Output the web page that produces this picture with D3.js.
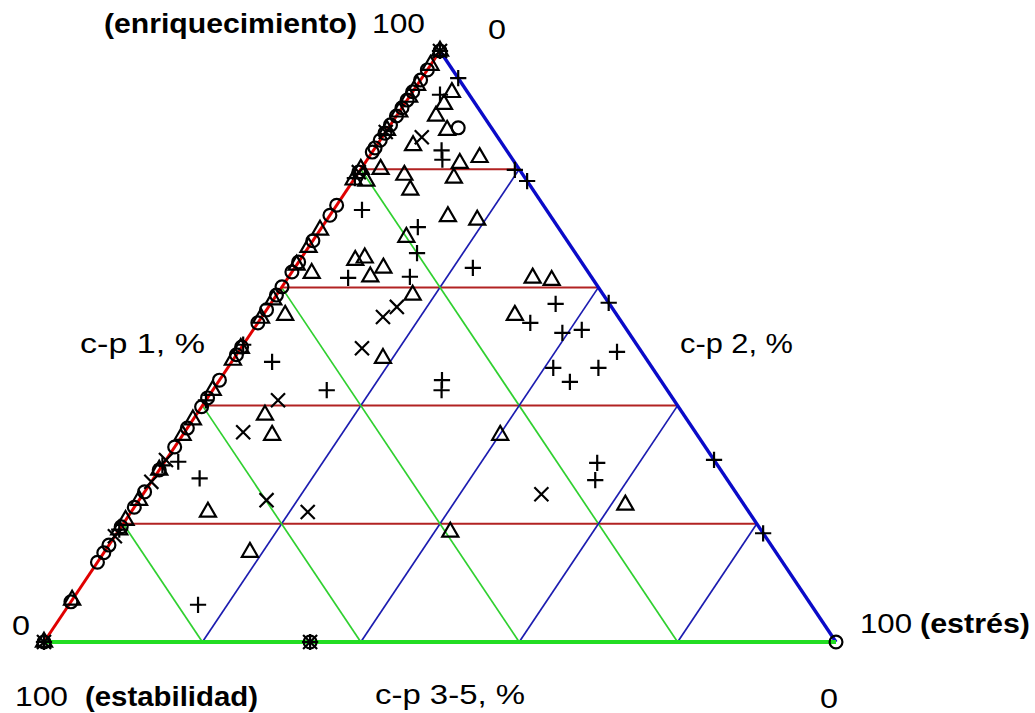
<!DOCTYPE html>
<html><head><meta charset="utf-8">
<script src="https://cdn.jsdelivr.net/npm/d3@7"></script>
<style>
body{margin:0;background:#fff;}
svg{display:block;}
text{font-family:"Liberation Sans",Arial,Helvetica,sans-serif;fill:#000;}
</style>
</head><body>
<svg id="c" width="1035" height="713"></svg>
<script>
// Ternary data: [c-p 1 %, c-p 2 %, c-p 3-5 %]
const gridLevels = [20, 40, 60, 80];
const axisTicks = ["0", "100"];

const circlePts = [
  [100,0,0],[96.8,0,3.2],[95.1,0,4.9],[93.1,0,6.9],[91.7,0,8.3],[90.4,0,9.6],[89,0,11],[87.5,0,12.5],
  [86.1,0,13.9],[84.9,0,15.1],[83.6,0,16.4],[82.9,0,17.1],[79.5,0,20.5],[73.9,0,26.1],[72.2,0,27.8],
  [67.9,0,32.1],[64.3,0,35.7],[62.6,0,37.4],[60.1,0,39.9],[58.7,0,41.3],[56.2,0,43.8],[54,0,46],
  [49.9,0,50.1],[48.6,0,51.4],[44.3,0,55.7],[41.3,0,58.7],[39.8,0,60.2],[36.2,0,63.8],[33,0,67],
  [29.1,0,70.9],[25.4,0,74.6],[22.8,0,77.2],[19.5,0,80.5],[16.4,0,83.6],[15.1,0,84.9],[13.5,0,86.5],
  [6.8,0,93.2],[0,0,100],
  [87,8.8,4.2],[0,33.6,66.4],[0,100,0]
];
const trianglePts = [
  [100,0,0],[97.6,0,2.4],[94.2,0,5.8],[92.2,0,7.8],[89.7,0,10.3],[86.6,0,13.4],[80,0,20],[78.2,0,21.8],
  [69.7,0,30.3],[66.8,0,33.2],[63.8,0,36.2],[57.9,0,42.1],[54.8,0,45.2],[49.7,0,50.3],[47.7,0,52.3],
  [42.6,0,57.4],[37.6,0,62.4],[35,0,65],[29.1,0,70.9],[24,0,76],[20.6,0,79.4],[19,0,81],[7.1,0,92.9],[0,0,100],
  [93,5,2],[91,5,4],[89,5,6],[86.6,7.6,5.8],[84,4.6,11.4],[81,12,7],[82,14,4],[78.5,12.5,9],
  [79,6,15],[80,2.5,17.5],[76.5,8,15.5],[78,1.7,20.3],[72,15,13],[71.4,19,9.6],[68.5,11.5,20],
  [64.6,7,28.4],[65,8,27],[63.3,11.2,25.5],[61.8,10.3,27.9],[58.7,17.2,24.1],[62.4,2.6,35],
  [61.6,30.9,7.5],[61.2,33.5,5.3],[55.3,31.8,12.9],[55.3,2.8,41.9],[48,18.8,33.2],[38.4,8.7,52.9],
  [35,11.3,53.7],[22,9.7,68.3],[15.2,18.4,66.4],[35,40.1,24.9],[18.6,42,39.4],[23.2,61.8,15]
];
const plusPts = [
  [100,0,0],[78.5,0,21.5],[50.3,0,49.7],[40.9,0,59.1],[29.9,0,70.1],[19,0,81],[0,0,100],[0,33.6,66.4],
  [92.6,3.7,3.7],[83.2,8.6,8.2],[81.6,9.5,8.9],[73.1,3.6,23.3],[70.2,12.1,17.7],[65.8,14.2,20],
  [61.6,7.6,30.8],[61.8,15.3,22.9],[63.3,22.5,14.2],[57.2,36,6.8],[54,34.4,11.6],[52.3,39.3,8.4],
  [52.8,41.5,5.7],[49.1,47.8,3.1],[46.4,46.8,6.8],[46.4,41.1,12.5],[44,44.4,11.6],[44.3,28.1,27.6],
  [42.6,28.9,28.5],[47.4,5.1,47.5],[42.6,14.4,43],[30.5,1.7,67.8],[27.7,5.8,66.5],[30.3,54.7,15],
  [27.4,55.9,16.7],[6.3,16.3,77.4],
  [95.4,4.6,0],[79.9,19.5,0.6],[78,22,0],[57.4,42.6,0],[30.8,69.2,0],[18.4,81.6,0]
];
const timesPts = [
  [100,0,0],[86.3,0,13.7],[79.5,0,20.5],[30.8,0,69.2],[27.1,0,72.9],[17.9,0,82.1],[0,0,100],[0,33.6,66.4],
  [85.4,5,9.6],[56.7,16.2,27.1],[55,15.3,29.7],[49.7,15.3,35],[40.9,9.1,50],[35.5,7.4,57.1],
  [24,16.1,59.9],[22,22.3,55.7],[25,50.3,24.7]
];

const svg = d3.select("#c");
const x = d3.scaleLinear().domain([0, 100]).range([44, 836]);
const y = d3.scaleLinear().domain([0, 100]).range([642, 51]);
const px = d => x(d[1] + d[0] / 2);
const py = d => y(d[0]);

// grid
const g = svg.append("g");
gridLevels.forEach(k => {
  g.append("line").attr("x1", px([k,0])).attr("y1", py([k,0])).attr("x2", px([k,100-k])).attr("y2", py([k,100-k]))
    .attr("stroke", "#b22222").attr("stroke-width", 2);
});
gridLevels.forEach(k => {
  g.append("line").attr("x1", px([0,k])).attr("y1", py([0,k])).attr("x2", px([100-k,k])).attr("y2", py([100-k,k]))
    .attr("stroke", "#1c1cb0").attr("stroke-width", 1.7);
  g.append("line").attr("x1", px([0,100-k])).attr("y1", py([0,100-k])).attr("x2", px([100-k,0])).attr("y2", py([100-k,0]))
    .attr("stroke", "#30d030").attr("stroke-width", 1.7);
});
// edges
svg.append("line").attr("x1", px([0,0])).attr("y1", py([0,0])).attr("x2", px([100,0])).attr("y2", py([100,0]))
  .attr("stroke", "#e00000").attr("stroke-width", 3);
svg.append("line").attr("x1", px([0,100])).attr("y1", py([0,100])).attr("x2", px([100,0])).attr("y2", py([100,0]))
  .attr("stroke", "#0a0ac8").attr("stroke-width", 3.4);
svg.append("line").attr("x1", px([0,0])).attr("y1", py([0,0])).attr("x2", px([0,100])).attr("y2", py([0,100]))
  .attr("stroke", "#22dd22").attr("stroke-width", 4);

// markers
function drawSeries(data, type, size) {
  svg.append("g").selectAll("path").data(data).join("path")
    .attr("d", d3.symbol().type(type).size(size))
    .attr("transform", d => `translate(${px(d)},${py(d)})`)
    .attr("fill", "none").attr("stroke", "#000").attr("stroke-width", 2.2);
}
drawSeries(circlePts, d3.symbolCircle, 130);
drawSeries(trianglePts, d3.symbolTriangle2, 185);
drawSeries(plusPts, d3.symbolPlus, 88);
drawSeries(timesPts, d3.symbolTimes, 130);

// labels
function label(t, xx, yy, w, bold) {
  svg.append("text").attr("x", xx).attr("y", yy).text(t)
    .attr("font-size", 27).attr("font-weight", bold ? "bold" : "normal")
    .attr("textLength", w).attr("lengthAdjust", "spacingAndGlyphs");
}
label("(enriquecimiento)", 104, 33, 253, true);
label(axisTicks[1], 372, 33, 53, false);
label(axisTicks[0], 488, 39, 18, false);
label("c-p 1, %", 80, 353, 125, false);
label("c-p 2, %", 680, 353, 113, false);
label(axisTicks[0], 12, 635, 18, false);
label(axisTicks[1], 860, 633, 52, false);
label("(estrés)", 920, 633, 110, true);
label(axisTicks[1], 15, 706, 53, false);
label("(estabilidad)", 85, 706, 173, true);
label("c-p 3-5, %", 375, 704, 150, false);
label(axisTicks[0], 820, 708, 18, false);
</script>
</body></html>
